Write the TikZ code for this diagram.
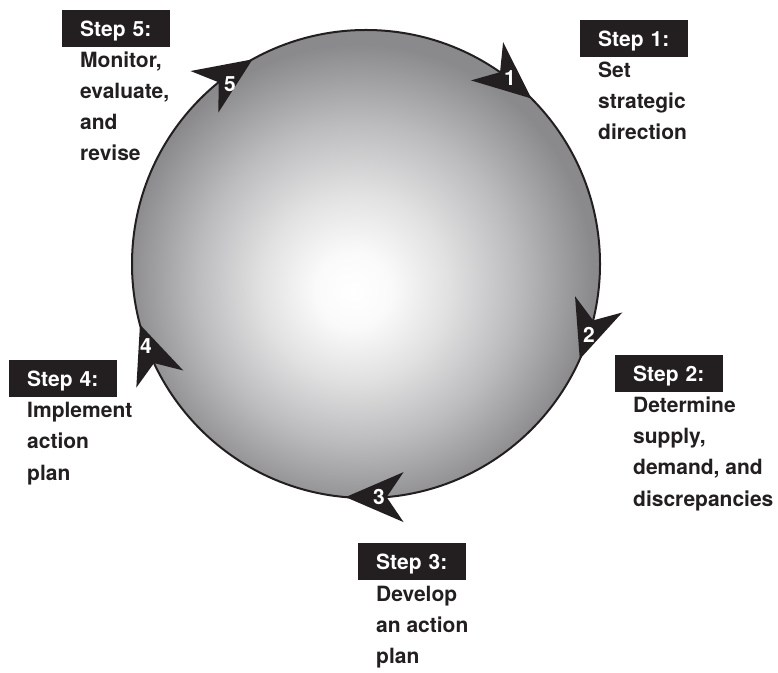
\documentclass[tikz,border=0pt]{standalone}
\usepackage{fontspec}
\newfontfamily\hel{TeX Gyre Heros}
\usetikzlibrary{calc}
\definecolor{ink}{HTML}{231F20}
\definecolor{edgegray}{RGB}{138,138,140}
\definecolor{g1}{RGB}{250,250,250}
\definecolor{g2}{RGB}{225,225,226}
\definecolor{g3}{RGB}{188,188,190}
\pgfdeclareradialshading{ballshade}{\pgfpoint{-1.5bp}{-3bp}}{color(0bp)=(white); color(4bp)=(g1); color(10bp)=(g2); color(17bp)=(g3); color(25bp)=(edgegray); color(50bp)=(edgegray)}
\begin{document}
\begin{tikzpicture}[x=1pt,y=1pt,
  lbl/.style={font=\hel\bfseries\fontsize{21}{25}\selectfont, text=ink, inner sep=0pt, anchor=base west},
  stepbox/.style={fill=ink, text=white, font=\hel\bfseries\fontsize{21}{25}\selectfont, anchor=north west, minimum width=108pt, minimum height=37pt, text width=72pt, inner xsep=18pt, inner ysep=0pt, text height=15pt, text depth=0pt, align=left},
  num/.style={font=\hel\bfseries\fontsize{21}{25}\selectfont, text=white, inner sep=0pt},
  arrowhead/.style={fill=ink}]
\useasboundingbox (0,0) rectangle (778,672);
\node[circle, minimum size=468pt, inner sep=0pt, draw=ink, line width=2pt, shade, shading=ballshade] (ring) at (366,408) {};
\foreach \th/\nm in {55/1, -14/2, -85/3, 205/4, 129/5} {
  \path (ring.center) ++(\th-10:234) coordinate (tip\nm);
  \fill[arrowhead, shift={(tip\nm)}, rotate=\th-95] (0,0) -- (-58,25) -- (-41,0) -- (-58,-25) -- cycle;
}
\node[num] (n1) at (510,594) {1};
\node[num] (n2) at (589,337) {2};
\node[num] (n3) at (379,175) {3};
\node[num] (n4) at (146,326) {4};
\node[num] (n5) at (230,588) {5};
% Step 1
\node[stepbox] (b1) at (580,652) {Step 1:};
\foreach \t [count=\i] in {Set,strategic,direction}
  \node[lbl] (t1\i) at (598, 625-31*\i) {\t};
% Step 2
\node[stepbox] (b2) at (615,317) {Step 2:};
\foreach \t [count=\i] in {Determine,{supply,},{demand, and},discrepancies}
  \node[lbl] (t2\i) at (633, 290-31*\i) {\t};
% Step 3
\node[stepbox] (b3) at (358,129) {Step 3:};
\foreach \t [count=\i] in {Develop,{an action},plan}
  \node[lbl] (t3\i) at (376, 102-31*\i) {\t};
% Step 4
\node[stepbox] (b4) at (9,312) {Step 4:};
\foreach \t [count=\i] in {Implement,action,plan}
  \node[lbl] (t4\i) at (27, 285-31*\i) {\t};
% Step 5
\node[stepbox] (b5) at (62,662) {Step 5:};
\foreach \t [count=\i] in {{Monitor,},{evaluate,},and,revise}
  \node[lbl] (t5\i) at (80, 635-31*\i) {\t};
\end{tikzpicture}
\end{document}
